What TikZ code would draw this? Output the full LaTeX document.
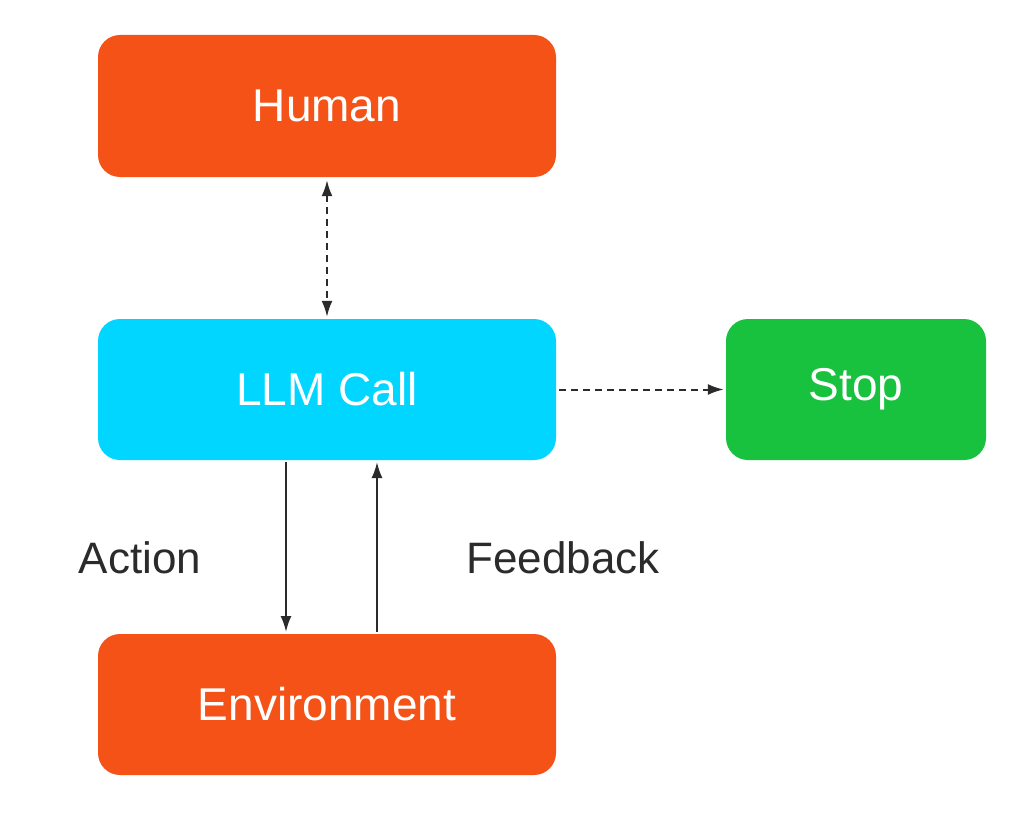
\documentclass[tikz,border=0pt]{standalone}
\usepackage{fontspec}
\setmainfont{Liberation Sans}
\usetikzlibrary{arrows.meta}
\definecolor{orng}{HTML}{F55218}
\definecolor{cyn}{HTML}{00D6FF}
\definecolor{grn}{HTML}{18C23E}
\definecolor{ink}{HTML}{2B2B2B}
\begin{document}
\begin{tikzpicture}[x=1pt,y=-1pt,
  box/.style={rounded corners=22pt,inner sep=0pt,text=white,font=\fontsize{46}{50}\selectfont},
  arr/.style={draw=ink,line width=2pt,-{Latex[length=16pt,width=11pt]}},
  lbl/.style={text=ink,font=\fontsize{44}{48}\selectfont}]
\useasboundingbox (0,0) rectangle (1024,813);
\node[box,fill=orng,minimum width=458pt,minimum height=142pt] (human) at (327,106) {Human};
\node[box,fill=cyn,minimum width=458pt,minimum height=141pt] (llm) at (327,389.5) {LLM Call};
\node[box,fill=grn,minimum width=260pt,minimum height=141pt] (stop) at (856,389.5) {Stop};
\node[box,fill=orng,minimum width=458pt,minimum height=141pt] (env) at (327,704.5) {Environment};
\draw[arr,dashed,{Latex[length=16pt,width=11pt]}-{Latex[length=16pt,width=11pt]},dash pattern=on 7pt off 5pt] ([yshift=-3pt]human.south) -- ([yshift=2pt]llm.north);
\draw[arr,dashed,dash pattern=on 7pt off 5pt] ([xshift=3pt]llm.east) -- ([xshift=-2pt]stop.west);
\coordinate (a1) at (286,462); \coordinate (a2) at (286,632);
\coordinate (f1) at (377,632); \coordinate (f2) at (377,462);
\draw[arr] (a1) -- (a2);
\draw[arr] (f1) -- (f2);
\node[lbl] (action) at (140,558) {Action};
\node[lbl] (fb) at (563,558) {Feedback};
\end{tikzpicture}
\end{document}
